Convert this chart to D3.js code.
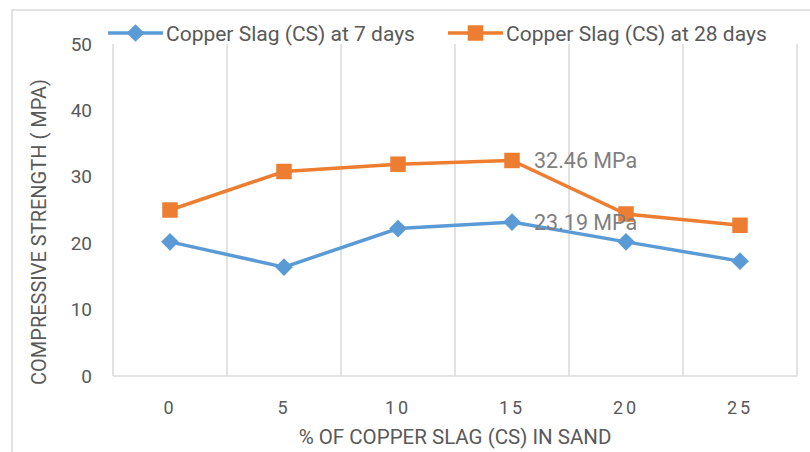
<!DOCTYPE html>
<html>
<head>
<meta charset="utf-8">
<script src="https://cdn.jsdelivr.net/npm/d3@7"></script>
<style>
  body { margin: 0; background: #fff; }
  svg text { font-family: "Roboto", sans-serif; }
</style>
</head>
<body>
<div id="chart-area"></div>
<script>
// data
var categories = ["0", "5", "10", "15", "20", "25"];
var days7 = [20.2, 16.4, 22.2, 23.19, 20.2, 17.3];
var days28 = [25.0, 30.8, 31.9, 32.46, 24.4, 22.7];
var yTicks = [0, 10, 20, 30, 40, 50];
var seriesNames = ["Copper Slag (CS) at 7 days", "Copper Slag (CS) at 28 days"];
var pointLabels = [{cat: "15", value: 32.46, text: "32.46 MPa"}, {cat: "15", value: 23.19, text: "23.19 MPa"}];

var W = 810, H = 452;
var margin = {left: 113, right: 13, top: 44, bottom: 76};
var width = W - margin.left - margin.right;
var height = H - margin.top - margin.bottom;

var svg = d3.select("#chart-area").append("svg")
    .attr("width", W).attr("height", H);

// outer chart border (cropped)
svg.append("path")
    .attr("d", "M12," + H + "V10H" + W)
    .attr("fill", "none").attr("stroke", "#d9d9d9").attr("stroke-width", 1.5);

var g = svg.append("g")
    .attr("transform", "translate(" + margin.left + "," + margin.top + ")");

// scales
var x = d3.scaleBand().domain(categories).range([0, width]);
var y = d3.scaleLinear().domain([0, 50]).range([height, 0]);

// vertical gridlines at category boundaries
var bounds = d3.range(categories.length + 1).map(function(i){ return i * x.step(); });
g.selectAll(".vgrid").data(bounds).enter().append("line")
    .attr("x1", function(d){ return d; }).attr("x2", function(d){ return d; })
    .attr("y1", 0).attr("y2", height)
    .attr("stroke", "#d9d9d9").attr("stroke-width", 1.5);
g.append("line")
    .attr("x1", 0).attr("x2", width).attr("y1", height).attr("y2", height)
    .attr("stroke", "#d9d9d9").attr("stroke-width", 1.5);

// y axis
var leftAxis = d3.axisLeft(y).tickValues(yTicks).tickSize(0).tickPadding(21);
var ya = g.append("g").attr("class", "y-axis").call(leftAxis);
ya.select(".domain").remove();
ya.selectAll("text").attr("fill", "#595959").style("font-size", "19px");

// x axis
var bottomAxis = d3.axisBottom(x).tickSize(0).tickPadding(25);
var xa = g.append("g").attr("class", "x-axis")
    .attr("transform", "translate(0," + height + ")").call(bottomAxis);
xa.select(".domain").remove();
xa.selectAll("text").attr("fill", "#595959").style("font-size", "18px")
    .style("letter-spacing", "3px");

// axis titles
svg.append("text")
    .attr("x", 455).attr("y", 444)
    .attr("text-anchor", "middle").attr("fill", "#595959")
    .style("font-size", "20.5px")
    .text("% OF COPPER SLAG (CS) IN SAND");
svg.append("text")
    .attr("transform", "translate(46,232) rotate(-90)")
    .attr("text-anchor", "middle").attr("fill", "#595959")
    .style("font-size", "20px")
    .text("COMPRESSIVE STRENGTH ( MPA)");

var cx = function(d, i){ return x(categories[i]) + x.bandwidth() / 2; };
var line = d3.line().x(cx).y(function(d){ return y(d); });

var blue = "#5b9bd5", orange = "#ed7d31";

g.append("path").datum(days7).attr("d", line)
    .attr("fill", "none").attr("stroke", blue).attr("stroke-width", 3.5);
g.append("path").datum(days28).attr("d", line)
    .attr("fill", "none").attr("stroke", orange).attr("stroke-width", 3.5);

var diamond = d3.symbol().type(d3.symbolDiamond2).size(200);
var square = d3.symbol().type(d3.symbolSquare).size(240);

g.selectAll(".m7").data(days7).enter().append("path")
    .attr("d", diamond)
    .attr("transform", function(d, i){ return "translate(" + cx(d, i) + "," + y(d) + ")"; })
    .attr("fill", blue);
g.selectAll(".m28").data(days28).enter().append("path")
    .attr("d", square)
    .attr("transform", function(d, i){ return "translate(" + cx(d, i) + "," + y(d) + ")"; })
    .attr("fill", orange);

// data labels
g.selectAll(".plabel").data(pointLabels).enter().append("text")
    .attr("x", function(d){ return x(d.cat) + x.bandwidth() / 2 + 22; })
    .attr("y", function(d){ return y(d.value) + 8; })
    .attr("fill", "#7f7f7f").style("font-size", "21.5px")
    .text(function(d){ return d.text; });

// legend
var legend = svg.append("g");
var legX = [108, 448];
seriesNames.forEach(function(name, i){
    var lg = legend.append("g").attr("transform", "translate(" + legX[i] + ",33)");
    lg.append("line").attr("x1", 0).attr("x2", 55).attr("y1", 0).attr("y2", 0)
        .attr("stroke", i ? orange : blue).attr("stroke-width", 3.5);
    lg.append("path").attr("d", i ? square : diamond)
        .attr("transform", "translate(27.5,0)").attr("fill", i ? orange : blue);
    lg.append("text").attr("x", 58).attr("y", 7.5)
        .attr("fill", "#595959").style("font-size", "21px").text(name);
});
</script>
</body>
</html>
